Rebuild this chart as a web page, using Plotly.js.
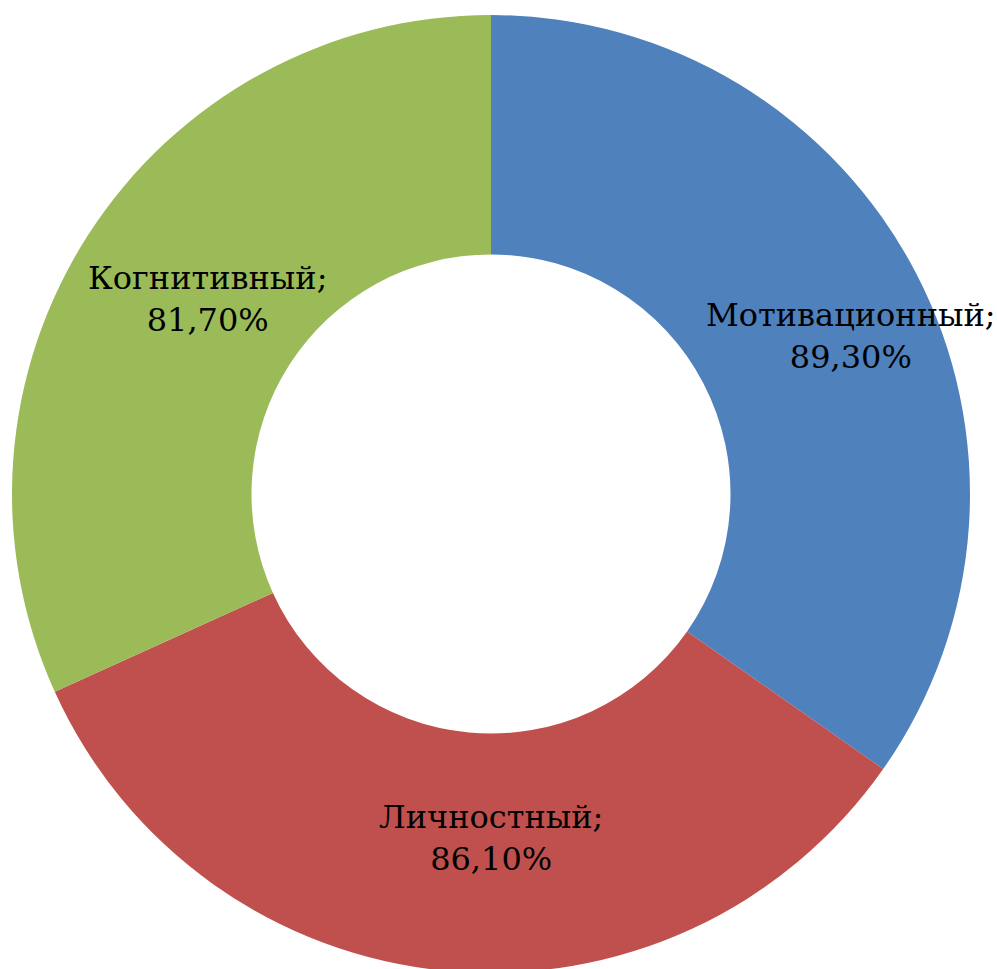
<!DOCTYPE html>
<html>
<head>
<meta charset="utf-8">
<script src="https://cdn.plot.ly/plotly-3.0.1.min.js"></script>
<style>
html, body { margin: 0; padding: 0; overflow: hidden; background: #fff; }
#chart { width: 997px; height: 988px; }
</style>
</head>
<body>
<div id="chart"></div>
<script>
const categories = ["Мотивационный", "Личностный", "Когнитивный"];
const values = [89.3, 86.1, 81.7];
const valueLabels = ["89,30%", "86,10%", "81,70%"];
const colors = ["#4F81BD", "#C0504D", "#9BBB59"];

const W = 997, H = 988;
// label centres in pixels (layout, not data)
const labelPos = [[851, 336], [491, 838], [207, 299]];

const annotations = categories.map((c, i) => ({
  text: c + ";<br>" + valueLabels[i],
  x: labelPos[i][0] / W,
  y: 1 - labelPos[i][1] / H,
  xref: "paper", yref: "paper",
  xanchor: "center", yanchor: "middle",
  showarrow: false,
  font: { family: "DejaVu Serif", size: 32, color: "#000" }
}));

const trace = {
  type: "pie",
  labels: categories,
  values: values,
  hole: 0.5,
  sort: false,
  direction: "clockwise",
  rotation: 0,
  textinfo: "none",
  hoverinfo: "none",
  marker: { colors: colors, line: { width: 0 } },
  domain: { x: [12 / W, 970 / W], y: [0, 1] },
  showlegend: false
};

Plotly.newPlot("chart", [trace], {
  width: W, height: H,
  margin: { l: 0, r: 0, t: 0, b: 0 },
  paper_bgcolor: "#fff",
  showlegend: false,
  annotations: annotations
}, { displayModeBar: false, staticPlot: true });
</script>
</body>
</html>
